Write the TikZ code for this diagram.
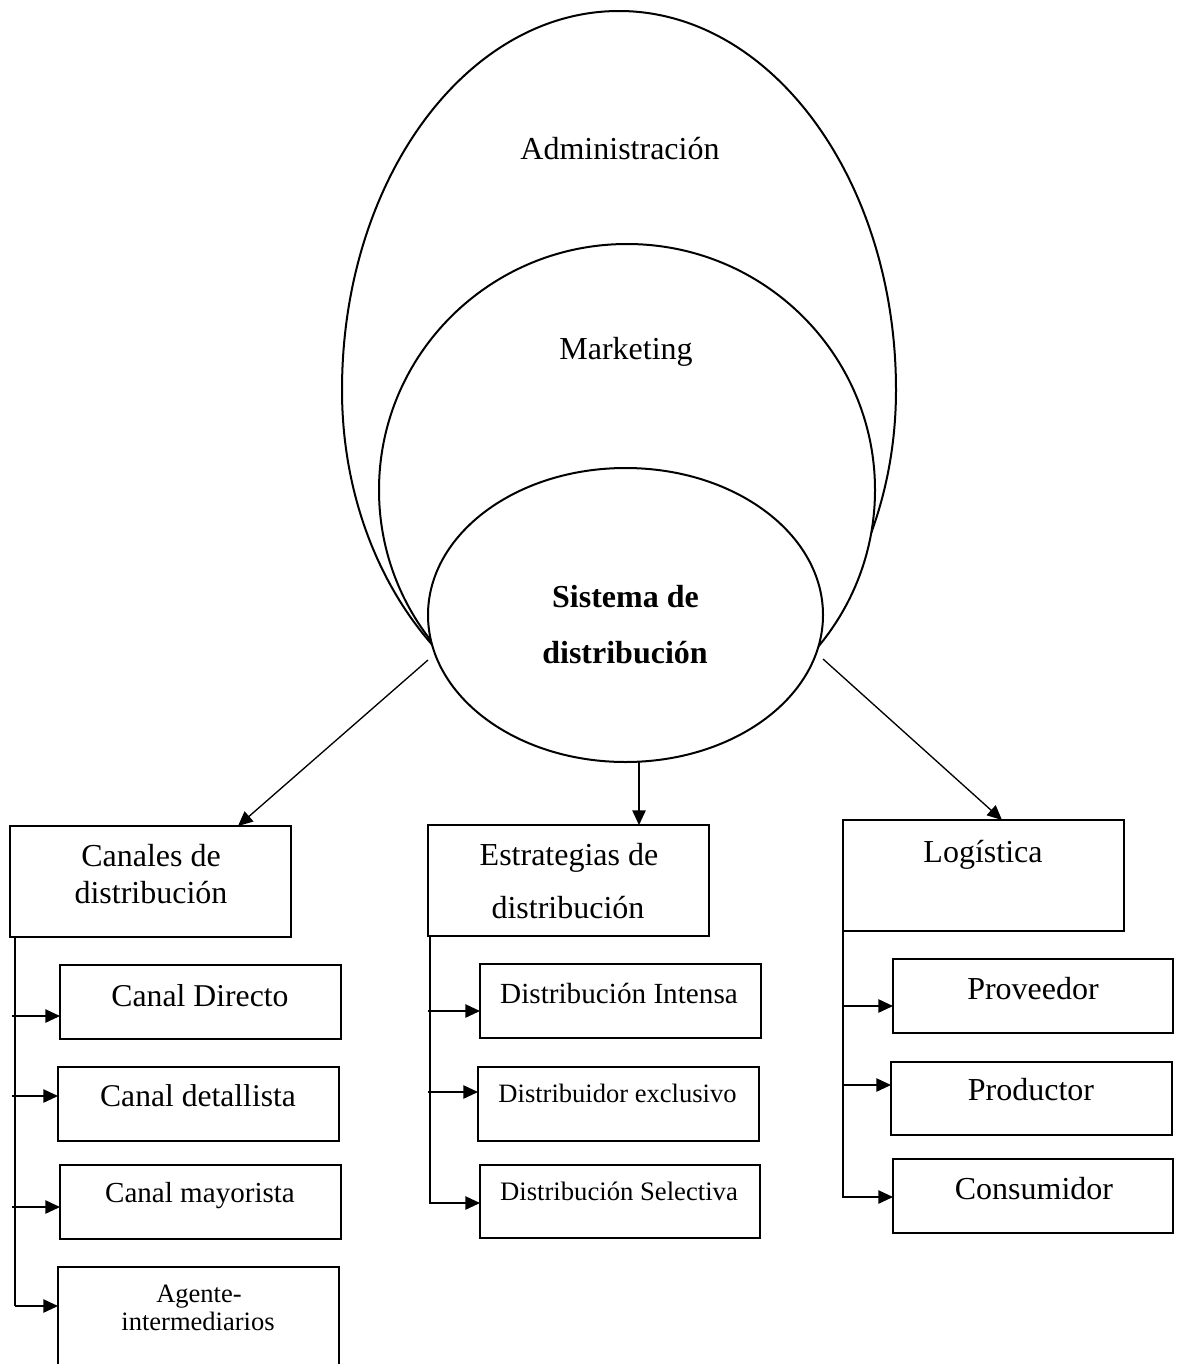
\documentclass[tikz,border=0pt]{standalone}
\usepackage{fontspec}
\setmainfont{Liberation Serif}
\usetikzlibrary{arrows.meta,shapes.geometric,fit}
\newcommand\txtsz[1]{\fontsize{#1pt}{#1pt}\selectfont}
\begin{document}
\begin{tikzpicture}[x=0.75pt,y=-0.75pt,
  shp/.style={draw, line width=1.5pt, fill=white},
  box/.style={draw, rectangle, line width=1.4pt, inner sep=0pt, outer sep=0pt},
  lbl/.style={inner sep=0pt, anchor=base, font=\txtsz{24}},
  arr/.style={line width=1.2pt, -{Triangle[length=11pt,width=10pt]}},
  link/.style={line width=1.1pt}]
\path[use as bounding box] (0,0) rectangle (1181,1364);
\clip (0,0) rectangle (1181,1364);

% --- nested shapes ---
\draw[shp] (342,390) arc[start angle=180, end angle=0, x radius=207.75pt, y radius=284.25pt]
  arc[start angle=0, end angle=-180, x radius=207.75pt, y radius=258.75pt] -- cycle;
\draw[shp] (627,490) ellipse [x radius=186pt, y radius=184.5pt];
\node[shp, ellipse, inner sep=0pt, minimum width=296.25pt, minimum height=220.5pt] (sis) at (625.5,615) {};

\node[lbl] (tAdm) at (620,159) {Administración};
\node[lbl] (tMkt) at (626,359) {Marketing};
\node[lbl, font=\txtsz{24}\bfseries] (tSis1) at (625.5,607) {Sistema de};
\node[lbl, font=\txtsz{24}\bfseries] (tSis2) at (625,663) {distribución};

% --- boxes ---
\node[box, fit={(10,826) (291,937)}] (canales) {};
\node[box, fit={(60,965) (341,1039)}] (directo) {};
\node[box, fit={(58,1067) (339,1141)}] (detallista) {};
\node[box, fit={(60,1165) (341,1239)}] (mayorista) {};
\node[box, fit={(58,1267) (339,1380)}] (agente) {};

\node[box, fit={(428,825) (709,936)}] (estrategias) {};
\node[box, fit={(480,964) (761,1038)}] (intensa) {};
\node[box, fit={(478,1067) (759,1141)}] (exclusivo) {};
\node[box, fit={(480,1165) (760,1238)}] (selectiva) {};

\node[box, fit={(843,820) (1124,931)}] (logistica) {};
\node[box, fit={(893,959) (1173,1033)}] (proveedor) {};
\node[box, fit={(891,1062) (1172,1135)}] (productor) {};
\node[box, fit={(893,1159) (1173,1233)}] (consumidor) {};

% --- texts ---
\node[lbl] (tCan1) at (151,866) {Canales de};
\node[lbl] (tCan2) at (151,903) {distribución};
\node[lbl, font=\txtsz{23.8}] (tDir) at (200,1006) {Canal Directo};
\node[lbl, font=\txtsz{23.7}] (tDet) at (198,1106) {Canal detallista};
\node[lbl, font=\txtsz{21.8}] (tMay) at (200,1202) {Canal mayorista};
\node[lbl, font=\txtsz{19.9}] (tAg1) at (199,1302) {Agente-};
\node[lbl, font=\txtsz{19.9}] (tAg2) at (198,1330) {intermediarios};

\node[lbl] (tEst1) at (569,865) {Estrategias de};
\node[lbl] (tEst2) at (568,918) {distribución};
\node[lbl, font=\txtsz{21.9}] (tInt) at (619,1003) {Distribución Intensa};
\node[lbl, font=\txtsz{19.9}] (tExc) at (617.5,1102) {Distribuidor exclusivo};
\node[lbl, font=\txtsz{20}] (tSel) at (619,1200) {Distribución Selectiva};

\node[lbl] (tLog) at (983,862) {Logística};
\node[lbl] (tProv) at (1033,999) {Proveedor};
\node[lbl] (tProd) at (1031,1100) {Productor};
\node[lbl] (tCons) at (1034,1199) {Consumidor};

% --- connectors from the ellipse ---
\coordinate (sL) at (428,660);
\coordinate (sR) at (823,659);
\coordinate (sB) at (639,762);
\coordinate (lT) at (238,0);
\coordinate (rT) at (1002,0);
\draw[arr, line width=1pt] (sL) -- (lT |- canales.north);
\draw[arr] (sB) -- (sB |- estrategias.north);
\draw[arr, line width=1pt] (sR) -- (rT |- logistica.north);

% --- left column ---
\coordinate (cV) at (15,0);
\coordinate (c1) at (12,1016);
\coordinate (c2) at (12,1096);
\coordinate (c3) at (12,1207);
\coordinate (c4) at (15,1306);
\draw[link] (cV |- canales.south) -- (c4);
\draw[arr] (c1) -- (c1 -| directo.west);
\draw[arr] (c2) -- (c2 -| detallista.west);
\draw[arr] (c3) -- (c3 -| mayorista.west);
\draw[arr] (c4) -- (c4 -| agente.west);

% --- middle column ---
\coordinate (mV) at (430,0);
\coordinate (m1) at (428,1011);
\coordinate (m2) at (428,1092);
\coordinate (m3) at (430,1203);
\draw[arr] (mV |- estrategias.south) -- (m3) -- (m3 -| selectiva.west);
\draw[arr] (m1) -- (m1 -| intensa.west);
\draw[arr] (m2) -- (m2 -| exclusivo.west);

% --- right column ---
\coordinate (rV) at (843,0);
\coordinate (r1) at (842,1006);
\coordinate (r2) at (842,1085);
\coordinate (r3) at (843,1197);
\draw[arr] (rV |- logistica.south) -- (r3) -- (r3 -| consumidor.west);
\draw[arr] (r1) -- (r1 -| proveedor.west);
\draw[arr] (r2) -- (r2 -| productor.west);
\end{tikzpicture}
\end{document}
